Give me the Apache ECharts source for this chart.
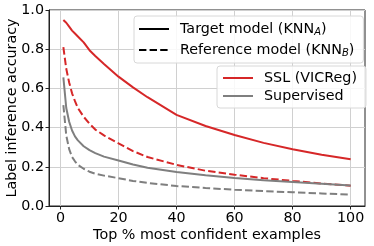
<!DOCTYPE html>
<html>
<head>
<meta charset="utf-8">
<script src="https://cdn.jsdelivr.net/npm/echarts@6/dist/echarts.min.js"></script>
<style>
html,body{margin:0;padding:0;background:#fff;}
#chart{width:374px;height:246px;}
</style>
</head>
<body>
<div id="chart"></div>
<script>
const xValues = [1, 2, 3, 4, 5, 6, 8, 10, 12, 15, 20, 25, 30, 40, 50, 60, 70, 80, 90, 100];
const sslTarget = [0.949, 0.935, 0.915, 0.895, 0.88, 0.865, 0.835, 0.795, 0.765, 0.725, 0.66, 0.605, 0.555, 0.465, 0.408, 0.362, 0.322, 0.29, 0.262, 0.238];
const sslReference = [0.81, 0.70, 0.63, 0.575, 0.535, 0.50, 0.455, 0.42, 0.39, 0.36, 0.32, 0.28, 0.25, 0.21, 0.18, 0.16, 0.142, 0.128, 0.115, 0.103];
const supTarget = [0.656, 0.50, 0.43, 0.385, 0.355, 0.335, 0.305, 0.285, 0.27, 0.252, 0.232, 0.212, 0.195, 0.173, 0.157, 0.143, 0.132, 0.123, 0.114, 0.105];
const supReference = [0.515, 0.36, 0.29, 0.25, 0.228, 0.21, 0.19, 0.175, 0.165, 0.155, 0.142, 0.128, 0.118, 0.102, 0.092, 0.083, 0.076, 0.07, 0.064, 0.058];
const xTicks = [0, 20, 40, 60, 80, 100];

const RED = '#d62728';
const GRAY = '#7f7f7f';
const FONT = 'DejaVu Sans';
const FS = 14.3;

function pairs(ys) { return xValues.map((x, i) => [x, ys[i]]); }

const chart = echarts.init(document.getElementById('chart'), null, {renderer: 'canvas'});

function lineSeries(name, data, color, dashed) {
  return {
    name: name, type: 'line', data: data, symbol: 'none', showSymbol: false,
    smooth: false, silent: true, animation: false,
    lineStyle: {color: color, width: 2, type: dashed ? [7.4, 3.2] : 'solid'},
    itemStyle: {color: color}
  };
}

const legendRich = {
  t: {fontFamily: FONT, fontSize: FS, color: '#000'},
  s: {fontFamily: FONT, fontSize: 10, fontStyle: 'italic', color: '#000', padding: [6, 0, 0, 0]}
};

const legendCommon = {
  orient: 'vertical', itemWidth: 30, itemHeight: 16,
  backgroundColor: 'rgba(255,255,255,0.85)', borderColor: '#d8d8d8', borderWidth: 1, borderRadius: 3,
  selectedMode: false,
  itemStyle: {opacity: 0}
};

chart.setOption({
  animation: false,
  backgroundColor: '#fff',
  grid: {left: 49, right: 9, top: 10, bottom: 40, containLabel: false, outerBoundsMode: 'none',
         show: true, borderColor: '#222', borderWidth: 1, backgroundColor: 'transparent'},
  xAxis: {
    type: 'value', min: -3.95, max: 104.95,
    name: 'Top % most confident examples', nameLocation: 'middle', nameGap: 22, nameMoveOverlap: false,
    nameTextStyle: {fontFamily: FONT, fontSize: FS, color: '#000'},
    axisLine: {show: true, onZero: false, lineStyle: {color: '#222', width: 1}},
    axisTick: {show: true, inside: false, length: 3.5, lineStyle: {color: '#222'}, customValues: xTicks},
    axisLabel: {fontFamily: FONT, fontSize: FS, color: '#000', margin: 5, customValues: xTicks},
    splitLine: {show: true, lineStyle: {color: '#d0d0d0', width: 1}}
  },
  yAxis: {
    type: 'value', min: 0, max: 1, interval: 0.2,
    name: 'Label inference accuracy', nameLocation: 'middle', nameGap: 30, nameMoveOverlap: false,
    nameTextStyle: {fontFamily: FONT, fontSize: FS, color: '#000'},
    axisLine: {show: true, onZero: false, lineStyle: {color: '#222', width: 1}},
    axisTick: {show: true, inside: false, length: 3.5, lineStyle: {color: '#222'}},
    axisLabel: {fontFamily: FONT, fontSize: FS, color: '#000', margin: 5, formatter: v => v.toFixed(1)},
    splitLine: {show: true, lineStyle: {color: '#d0d0d0', width: 1}}
  },
  legend: [
    Object.assign({}, legendCommon, {
      data: ['Target model', 'Reference model'],
      left: 134, top: 16,
      padding: [6, 9, 5, 4], itemGap: 6,
      textStyle: {fontFamily: FONT, fontSize: FS, color: '#000', rich: legendRich, padding: [0, 0, 0, 6]},
      formatter: function (name) {
        return name === 'Target model'
          ? '{t|Target model (KNN}{s|A}{t|)}'
          : '{t|Reference model (KNN}{s|B}{t|)}';
      }
    }),
    Object.assign({}, legendCommon, {
      data: ['SSL (VICReg)', 'Supervised'],
      left: 217, top: 66,
      padding: [5, 9, 5, 5], itemGap: 4,
      textStyle: {fontFamily: FONT, fontSize: FS, color: '#000', padding: [0, 0, 0, 6]}
    })
  ],
  series: [
    lineSeries('SSL (VICReg)', pairs(sslTarget), RED, false),
    lineSeries('SSL (VICReg) ref', pairs(sslReference), RED, true),
    lineSeries('Supervised', pairs(supTarget), GRAY, false),
    lineSeries('Supervised ref', pairs(supReference), GRAY, true),
    lineSeries('Target model', [], '#000', false),
    lineSeries('Reference model', [], '#000', true)
  ]
});
</script>
</body>
</html>
